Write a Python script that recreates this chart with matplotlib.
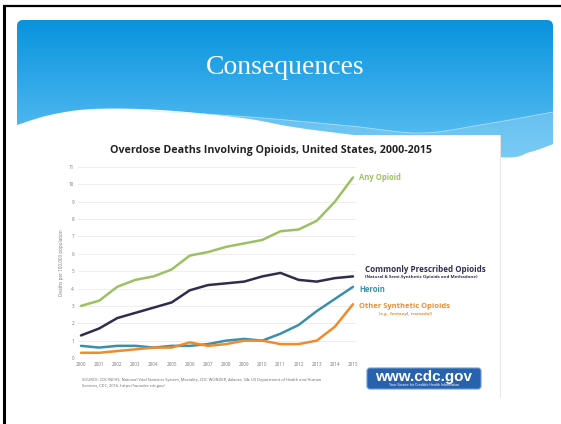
import numpy as np
import matplotlib
matplotlib.use("Agg")
import matplotlib.pyplot as plt
from matplotlib.path import Path
from matplotlib.patches import PathPatch, Rectangle, FancyBboxPatch

# ---------------- data ----------------
years = list(range(2000, 2016))
any_opioid = [3.0, 3.3, 4.1, 4.5, 4.7, 5.1, 5.9, 6.1, 6.4, 6.6, 6.8, 7.3, 7.4, 7.9, 9.0, 10.4]
rx_opioids = [1.3, 1.7, 2.3, 2.6, 2.9, 3.2, 3.9, 4.2, 4.3, 4.4, 4.7, 4.9, 4.5, 4.4, 4.6, 4.7]
heroin     = [0.7, 0.6, 0.7, 0.7, 0.6, 0.7, 0.7, 0.8, 1.0, 1.1, 1.0, 1.4, 1.9, 2.7, 3.4, 4.1]
synthetic  = [0.3, 0.3, 0.4, 0.5, 0.6, 0.6, 0.9, 0.7, 0.8, 1.0, 1.0, 0.8, 0.8, 1.0, 1.8, 3.1]
yticks = list(range(0, 12))

slide_title = "Consequences"
chart_title = "Overdose Deaths Involving Opioids, United States, 2000-2015"
ylabel = "Deaths per 100,000 population"
source = ("SOURCE: CDC/NCHS, National Vital Statistics System, Mortality. CDC WONDER, Atlanta, GA: US Department of Health and Human\n"
          "Services, CDC; 2016. https://wonder.cdc.gov/.")

C_ANY = "#9DC063"
C_RX = "#2F2D4E"
C_HER = "#3A90AC"
C_SYN = "#F08A2C"

W, H = 561, 424
fig = plt.figure(figsize=(W / 100, H / 100), dpi=100)
fig.patch.set_facecolor("white")

bg = fig.add_axes([0, 0, 1, 1])
bg.set_xlim(0, W)
bg.set_ylim(H, 0)
bg.axis("off")


def catmull(pts, n=20):
    pts = np.asarray(pts, float)
    P = np.vstack([pts[0], pts, pts[-1]])
    out = []
    for i in range(1, len(P) - 2):
        p0, p1, p2, p3 = P[i - 1], P[i], P[i + 1], P[i + 2]
        for t in np.linspace(0, 1, n, endpoint=False):
            t2, t3 = t * t, t * t * t
            out.append(0.5 * ((2 * p1) + (-p0 + p2) * t + (2 * p0 - 5 * p1 + 4 * p2 - p3) * t2
                              + (-p0 + 3 * p1 - 3 * p2 + p3) * t3))
    out.append(pts[-1])
    return np.array(out)


# slide frame (black lines on left and top)
bg.plot([4, 4], [5, H], color="black", lw=2.2, solid_capstyle="butt")
bg.plot([3, W], [6, 6], color="black", lw=1.6, solid_capstyle="butt")

# banner shape
bottom = catmull([(553, 144), (530, 152), (500, 157), (400, 141), (300, 128),
                  (243, 118), (160, 110), (93, 109), (50, 115), (17, 125)])
r = 6
verts = [(17, 125), (17, 20 + r), (17, 20), (17 + r, 20), (553 - r, 20), (553, 20), (553, 20 + r)]
codes = [Path.MOVETO, Path.LINETO, Path.CURVE3, Path.CURVE3, Path.LINETO, Path.CURVE3, Path.CURVE3]
for p in bottom:
    verts.append(tuple(p))
    codes.append(Path.LINETO)
verts.append((17, 125))
codes.append(Path.CLOSEPOLY)
banner_path = Path(verts, codes)
patch = PathPatch(banner_path, facecolor="none", edgecolor="none")
bg.add_patch(patch)

grad = np.linspace(0, 1, 256).reshape(-1, 1)
c_top = np.array([0x08, 0x93, 0xDE]) / 255
c_bot = np.array([0x62, 0xC3, 0xF4]) / 255
img = c_top[None, None, :] * (1 - grad[:, :, None]) + c_bot[None, None, :] * grad[:, :, None]
im = bg.imshow(img, extent=[17, 553, 160, 20], aspect="auto", zorder=1)
im.set_clip_path(patch)

# lighter dotted band inside banner
top_l = catmull([(150, 111), (250, 117), (350, 126), (420, 133), (480, 125), (553, 112)])
bx = np.linspace(160, 553, 200)
bot_y = np.interp(bx, bottom[::-1, 0], bottom[::-1, 1])
top_y = np.interp(bx, top_l[:, 0], top_l[:, 1])
top_y = np.minimum(top_y, bot_y)
bg.fill_between(bx, top_y, bot_y, facecolor="#A9DBF7", alpha=0.35, lw=0, zorder=2)
bg.plot(top_l[:, 0], top_l[:, 1], color="#CFEBFB", lw=0.6, alpha=0.7, zorder=2)

bg.text(285, 68, slide_title, color="white", fontsize=20, family="Liberation Serif",
        ha="center", va="center", zorder=3)

# chart image area
bg.add_patch(Rectangle((55, 135), 445, 262, facecolor="white", edgecolor="none", zorder=4))
bg.plot([500, 500], [135, 397], color="#E6E6E6", lw=0.7, zorder=4)

bg.text(271, 150, chart_title, fontsize=7.7, fontweight="bold", family="Open Sans",
        color="#222222", ha="center", va="center", zorder=5)
bg.text(62, 263, ylabel, fontsize=3.3, rotation=90, color="#777777", family="Open Sans",
        ha="center", va="center", zorder=5)
bg.text(82, 383, source, fontsize=2.9, color="#666666", family="Open Sans",
        ha="left", va="center", linespacing=1.6, zorder=5)

# series labels
fam = "Open Sans"
bg.text(359, 178, "Any Opioid", color=C_ANY, fontsize=5.5, fontweight="bold", family=fam,
        ha="left", va="center", zorder=5)
bg.text(425, 269, "Commonly Prescribed Opioids", color=C_RX, fontsize=5.8, fontweight="bold",
        family=fam, ha="center", va="center", zorder=5)
bg.text(421, 277, "(Natural & Semi-Synthetic Opioids and Methadone)", color=C_RX, fontsize=3.2,
        fontweight="bold", family=fam, ha="center", va="center", zorder=5)
bg.text(359, 289, "Heroin", color=C_HER, fontsize=5.5, fontweight="bold", family=fam,
        ha="left", va="center", zorder=5)
bg.text(359, 306, "Other Synthetic Opioids", color=C_SYN, fontsize=5.4, fontweight="bold",
        family=fam, ha="left", va="center", zorder=5)
bg.text(406, 314, "(e.g., fentanyl, tramadol)", color=C_SYN, fontsize=3.1, fontweight="bold",
        family=fam, ha="center", va="center", zorder=5)

# CDC logo
bg.add_patch(FancyBboxPatch((367, 368), 114, 21, boxstyle="round,pad=0,rounding_size=3",
                            facecolor="#2862AC", edgecolor="#6F9BD2", lw=0.8, zorder=5))
bg.text(424, 376.5, "www.cdc.gov", color="white", fontsize=11, fontweight="bold",
        family="Liberation Sans", ha="center", va="center", zorder=6)
bg.text(424, 385.5, "Your Source for Credible Health Information", color="white", fontsize=2.6,
        family="Liberation Sans", ha="center", va="center", zorder=6)

# ---------------- chart axes ----------------
px_year = 18.13
x0_px, x1_px = 81 - 0.15 * px_year, 353 + 0.15 * px_year
y0_px, y11_px = 358, 167
ax = fig.add_axes([x0_px / W, (H - y0_px) / H, (x1_px - x0_px) / W, (y0_px - y11_px) / H])
ax.set_zorder(10)
ax.patch.set_alpha(0)
ax.set_xlim(1999.85, 2015.15)
ax.set_ylim(0, 11)
for s in ax.spines.values():
    s.set_visible(False)
ax.set_yticks(yticks)
ax.set_xticks(years)
ax.tick_params(length=0, labelsize=3.3, labelcolor="#777777", pad=3)
for lab in ax.get_xticklabels() + ax.get_yticklabels():
    lab.set_family("Open Sans")
ax.grid(axis="y", color="#EBEBEB", lw=0.6)
ax.set_axisbelow(True)

ax.plot(years, heroin, color=C_HER, lw=1.8, solid_capstyle="round")
ax.plot(years, synthetic, color=C_SYN, lw=1.8, solid_capstyle="round")
ax.plot(years, rx_opioids, color=C_RX, lw=1.8, solid_capstyle="round")
ax.plot(years, any_opioid, color=C_ANY, lw=1.8, solid_capstyle="round")

fig.savefig("out.png", dpi=100)
